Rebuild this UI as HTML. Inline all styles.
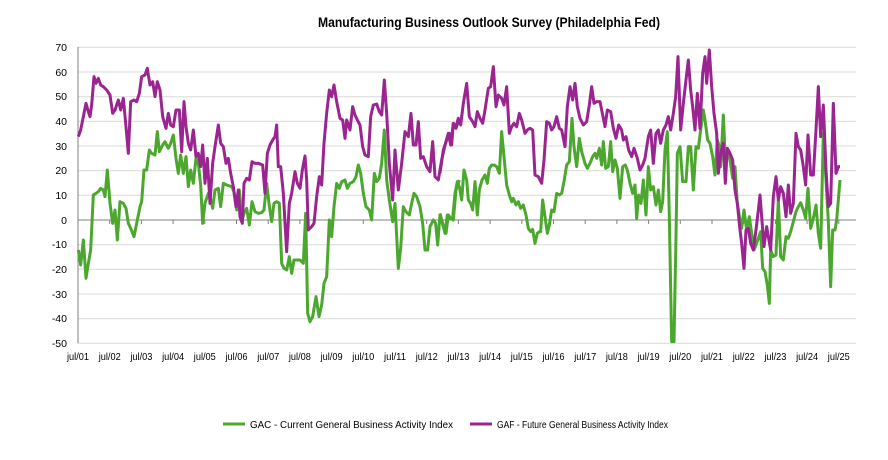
<!DOCTYPE html>
<html><head><meta charset="utf-8"><style>
body{margin:0;background:#fff;}
svg text{font-family:"Liberation Sans Narrow","Liberation Sans",sans-serif;fill:#000;}
</style></head><body>
<svg width="888" height="455" viewBox="0 0 888 455" xmlns="http://www.w3.org/2000/svg">
<text x="318" y="27" font-size="14" font-weight="bold" textLength="342" lengthAdjust="spacingAndGlyphs">Manufacturing Business Outlook Survey  (Philadelphia Fed)</text>
<g stroke="#d9d9d9" stroke-width="1">
<line x1="78" x2="856" y1="47.3" y2="47.3"/><line x1="78" x2="856" y1="72" y2="72"/><line x1="78" x2="856" y1="96.7" y2="96.7"/><line x1="78" x2="856" y1="121.3" y2="121.3"/><line x1="78" x2="856" y1="146" y2="146"/><line x1="78" x2="856" y1="170.7" y2="170.7"/><line x1="78" x2="856" y1="195.3" y2="195.3"/><line x1="78" x2="856" y1="244.7" y2="244.7"/><line x1="78" x2="856" y1="269.3" y2="269.3"/><line x1="78" x2="856" y1="294" y2="294"/><line x1="78" x2="856" y1="318.7" y2="318.7"/><line x1="78" x2="856" y1="343.3" y2="343.3"/>
</g>
<line x1="78" x2="78" y1="47" y2="343.3" stroke="#808080"/>
<line x1="78" x2="856" y1="220" y2="220" stroke="#808080"/>
<g stroke="#808080" id="ticks"></g>
<g font-size="10.5" text-anchor="end">
<text x="67" y="51">70</text><text x="67" y="76">60</text><text x="67" y="100">50</text><text x="67" y="125">40</text><text x="67" y="150">30</text><text x="67" y="174">20</text><text x="67" y="199">10</text><text x="67" y="224">0</text><text x="67" y="248">-10</text><text x="67" y="273">-20</text><text x="67" y="298">-30</text><text x="67" y="322">-40</text><text x="67" y="347">-50</text>
</g>
<g font-size="10.5" id="xl"></g>
<g transform="translate(40,30) scale(0.33333)" fill="none" stroke-width="9" stroke-linejoin="round">
<polyline stroke="#4ca72e" points="115,660 122,705 130,630 138,745 145,700 152,660 160,495 168,490 175,485 182,475 190,480 195,500 202,420 210,520 218,580 225,540 232,630 240,515 250,520 258,535 265,580 272,595 282,620 290,580 300,530 305,515 312,420 320,420 328,360 335,370 345,375 352,305 358,365 368,345 375,335 385,355 392,340 400,315 408,385 415,430 422,375 430,430 438,380 445,470 452,420 460,460 468,385 475,400 482,465 488,580 495,520 505,490 510,500 518,535 525,480 535,475 542,530 550,460 560,465 575,470 582,485 590,540 598,480 605,575 612,550 620,535 628,585 636,515 645,545 655,550 665,548 672,540 680,460 687,520 695,575 702,520 710,515 718,520 725,700 732,715 740,720 748,680 755,730 762,690 770,690 780,690 790,700 797,550 803,850 810,875 818,860 828,800 837,860 845,825 852,760 860,740 868,570 875,620 882,530 890,460 898,475 905,455 915,450 922,475 930,460 940,455 948,440 955,405 962,430 970,490 978,530 988,540 995,570 1003,430 1010,455 1018,445 1025,400 1033,300 1040,450 1048,510 1058,575 1065,520 1075,715 1082,655 1090,530 1098,545 1108,555 1115,520 1122,490 1130,500 1140,530 1148,580 1155,660 1163,660 1170,590 1180,570 1187,580 1193,645 1200,555 1210,590 1218,610 1225,555 1232,565 1240,570 1248,480 1258,450"/>
<polyline stroke="#9b2590" points="115,320 122,300 130,260 138,220 145,245 150,260 155,225 162,140 168,160 175,145 182,165 190,170 200,180 210,195 218,250 225,240 235,210 242,240 250,205 258,290 265,370 272,215 282,210 290,215 298,190 305,140 315,135 322,115 330,165 338,155 345,200 352,155 360,180 368,260 378,295 385,250 392,285 400,290 408,240 418,240 425,365 432,215 438,290 445,340 452,360 460,300 468,380 475,370 482,410 488,345 495,460 502,385 510,520 518,400 525,350 535,285 542,340 550,350 558,400 565,385 572,430 580,470 588,530 595,480 600,560 607,580 612,460 620,445 628,450 636,395 645,400 655,400 668,405 675,490 682,370 690,345 698,330 705,320 710,285 715,410 722,410 730,490 740,665 748,520 755,490 765,425 772,460 780,475 787,420 795,378 800,450 805,600 815,590 822,580 830,500 838,440 845,465 852,340 860,250 868,180 875,200 882,165 890,215 900,265 908,270 915,325 920,270 930,300 938,230 945,255 952,270 960,285 968,350 975,375 985,380 992,260 1000,225 1010,222 1018,245 1025,255 1033,150 1040,250 1048,400 1058,510 1065,360 1075,480 1085,400 1095,305 1105,320 1113,250 1120,345 1128,345 1135,275 1142,385 1150,380 1160,410 1170,425 1178,335 1185,440 1195,450 1205,390 1215,345 1225,310 1232,345 1240,280 1248,295 1258,265"/>
</g>
<g transform="translate(440,30) scale(0.33333)" fill="none" stroke-width="9" stroke-linejoin="round">
<polyline stroke="#4ca72e" points="0,550 8,580 15,610 22,555 30,565 38,565 45,490 52,455 58,470 65,510 72,420 80,450 85,510 92,520 98,540 105,455 112,555 118,480 126,450 135,435 142,460 148,415 155,405 162,405 170,410 178,430 185,305 192,380 200,465 208,495 215,515 220,505 228,525 235,515 242,535 250,525 258,555 265,595 272,605 278,598 285,640 292,610 298,605 302,605 308,510 315,560 322,610 328,585 335,540 342,545 350,490 358,495 365,490 372,455 380,405 388,395 396,265 402,350 410,410 418,325 425,365 435,400 442,415 450,400 458,380 465,370 470,385 478,355 485,405 490,335 497,415 505,410 512,335 518,425 525,390 532,415 540,505 548,410 556,405 562,420 570,460 578,490 585,465 590,565 596,495 603,520 610,450 618,555 625,410 632,480 640,470 648,525 655,480 662,545 668,515 675,360 682,305 688,560 695,935 702,935 708,620 712,370 720,350 728,455 738,455 745,350 752,350 760,480 768,350 775,355 782,300 790,240 795,270 803,330 810,340 818,380 825,435 832,330 838,350 842,410 850,255 856,390 862,360 870,390 878,445 885,410 892,520 900,570 905,595 912,540 920,600 928,560 935,610 942,660 948,645 955,625 962,605 968,715 975,725 982,765 988,820 992,660 1000,680 1008,675 1015,510 1022,680 1030,690 1038,620 1045,625 1052,605 1060,575 1068,545 1075,530 1082,518 1090,540 1097,565 1104,475 1112,595 1120,565 1128,525 1135,610 1142,655 1150,310 1158,450 1165,575 1172,770 1178,600 1185,600 1190,570 1200,450"/>
<polyline stroke="#9b2590" points="0,430 10,360 20,330 28,310 35,345 40,280 48,290 55,265 62,285 70,220 80,160 88,260 98,275 105,290 112,245 120,265 128,280 135,240 145,175 152,170 160,110 168,230 175,195 185,205 192,225 200,170 208,310 215,290 222,280 230,290 238,250 245,270 255,310 262,300 270,295 278,300 285,435 295,440 305,460 312,390 320,275 328,280 335,300 342,290 350,260 358,295 365,300 375,350 382,230 390,170 398,210 405,160 412,230 420,265 430,285 440,275 448,225 455,170 462,220 470,215 480,215 485,240 495,290 502,240 512,245 520,295 528,325 536,285 545,300 550,330 558,320 566,360 575,380 582,355 592,385 600,420 608,405 615,385 625,320 632,300 640,400 648,310 655,300 662,340 670,300 678,285 685,260 692,300 700,250 707,200 714,80 722,300 730,220 738,150 745,90 752,180 758,230 765,300 772,190 780,295 788,130 795,80 800,160 808,60 815,170 822,250 830,310 835,430 842,370 850,340 856,460 862,355 870,370 878,390 885,480 892,520 900,600 905,640 912,715 918,600 925,595 932,640 940,660 948,600 955,540 960,495 965,560 972,650 980,590 985,620 992,660 1000,500 1008,440 1015,510 1022,470 1030,490 1038,560 1045,465 1052,550 1060,520 1068,310 1075,350 1082,360 1090,410 1097,465 1104,315 1112,435 1120,435 1128,300 1135,170 1142,320 1150,225 1158,420 1165,530 1172,520 1180,220 1188,430 1195,410 1200,410"/>
</g>
<line x1="223" x2="245" y1="424" y2="424" stroke="#4ca72e" stroke-width="3"/>
<text x="250" y="428" font-size="10.5" textLength="203" lengthAdjust="spacingAndGlyphs">GAC - Current General Business Activity Index</text>
<line x1="470" x2="492" y1="424" y2="424" stroke="#9b2590" stroke-width="3"/>
<text x="497" y="428" font-size="10.5" textLength="171" lengthAdjust="spacingAndGlyphs">GAF - Future General Business Activity Index</text>
<script>
var t=document.getElementById('ticks'),xl=document.getElementById('xl'),ns='http://www.w3.org/2000/svg';
for(var i=0;i<=24;i++){var x=78+i*31.7;
var l=document.createElementNS(ns,'line');l.setAttribute('x1',x);l.setAttribute('x2',x);l.setAttribute('y1',220);l.setAttribute('y2',224);t.appendChild(l);
var s=document.createElementNS(ns,'text');s.setAttribute('x',x-11);s.setAttribute('y',360);s.setAttribute('textLength',22);s.setAttribute('lengthAdjust','spacingAndGlyphs');s.textContent='jul/'+(i+1<10?'0':'')+(i+1);xl.appendChild(s);}
</script>
</svg>
</body></html>
